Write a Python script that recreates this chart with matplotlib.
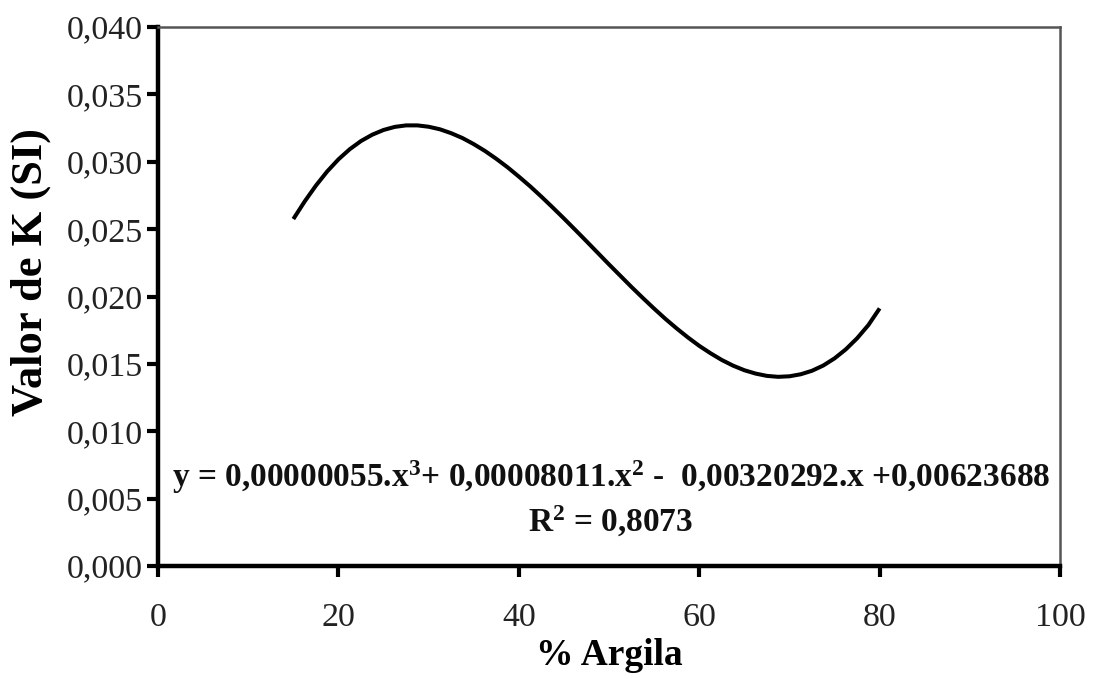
import matplotlib
matplotlib.use("Agg")
import matplotlib.pyplot as plt
from matplotlib.ticker import FixedLocator

# Data
argila = [15, 16.25, 17.5, 18.75, 20, 21.25, 22.5, 23.75, 25, 26.25, 27.5, 28.75,
          30, 31.25, 32.5, 33.75, 35, 36.25, 37.5, 38.75, 40, 41.25, 42.5, 43.75,
          45, 46.25, 47.5, 48.75, 50, 51.25, 52.5, 53.75, 55, 56.25, 57.5, 58.75,
          60, 61.25, 62.5, 63.75, 65, 66.25, 67.5, 68.75, 70, 71.25, 72.5, 73.75,
          75, 76.25, 77.5, 78.75, 80]
valor_k = [0.02575, 0.02705, 0.02823, 0.02928, 0.03018, 0.03093, 0.03154, 0.03201,
           0.03236, 0.03259, 0.03270, 0.03270, 0.03260, 0.03241, 0.03212, 0.03176,
           0.03131, 0.03080, 0.03022, 0.02959, 0.02890, 0.02818, 0.02741, 0.02661,
           0.02579, 0.02495, 0.02410, 0.02324, 0.02238, 0.02154, 0.02070, 0.01989,
           0.01910, 0.01834, 0.01763, 0.01696, 0.01634, 0.01579, 0.01529, 0.01487,
           0.01453, 0.01428, 0.01411, 0.01404, 0.01408, 0.01423, 0.01449, 0.01488,
           0.01541, 0.01608, 0.01690, 0.01788, 0.01912]

x_ticks = [0, 20, 40, 60, 80, 100]
y_ticks = [0.000, 0.005, 0.010, 0.015, 0.020, 0.025, 0.030, 0.035, 0.040]
y_labels = ["0,000", "0,005", "0,010", "0,015", "0,020", "0,025", "0,030", "0,035", "0,040"]

equation = "y = 0,00000055.x$^{\\mathbf{3}}$+ 0,00008011.x$^{\\mathbf{2}}$ -  0,00320292.x +0,00623688"
r2_text = "R$^{\\mathbf{2}}$ = 0,8073"

plt.rcParams["font.family"] = ["Liberation Serif", "DejaVu Serif"]
plt.rcParams["mathtext.fontset"] = "custom"
plt.rcParams["mathtext.rm"] = "Liberation Serif"
plt.rcParams["mathtext.bf"] = "Liberation Serif:bold"
plt.rcParams["mathtext.it"] = "Liberation Serif:italic"

fig = plt.figure(figsize=(10.96, 6.79), dpi=100)
ax = fig.add_axes([0.1442, 0.1664, 0.9672 - 0.1442, 0.9602 - 0.1664])

ax.plot(argila, valor_k, color="black", linewidth=2.9, solid_capstyle="butt",
        solid_joinstyle="round")

ax.set_xlim(0, 100)
ax.set_ylim(0, 0.040)
ax.xaxis.set_major_locator(FixedLocator(x_ticks))
ax.set_xticklabels([str(t) for t in x_ticks])
ax.yaxis.set_major_locator(FixedLocator(y_ticks))
ax.set_yticklabels(y_labels)

ax.tick_params(axis="both", direction="out", length=8, width=3, labelsize=24.5,
               colors="black", labelcolor="#222222")
ax.tick_params(axis="x", pad=18)
ax.tick_params(axis="y", pad=3)

for side in ["left", "bottom"]:
    ax.spines[side].set_linewidth(3.2)
    ax.spines[side].set_color("black")
for side in ["top", "right"]:
    ax.spines[side].set_linewidth(1.8)
    ax.spines[side].set_color("#555555")

ax.set_xlabel("% Argila", fontsize=27, fontweight="bold", labelpad=4)
ax.set_ylabel("Valor de K (SI)", fontsize=32, fontweight="bold")
ax.yaxis.set_label_coords(-0.119, 0.545)

ax.text(50.2, 0.0066, equation, ha="center", va="center", fontsize=24,
        fontweight="bold", color="#111111")
ax.text(50.2, 0.0033, r2_text, ha="center", va="center", fontsize=24,
        fontweight="bold", color="#111111")

fig.savefig("out.png", dpi=100, facecolor="white")
